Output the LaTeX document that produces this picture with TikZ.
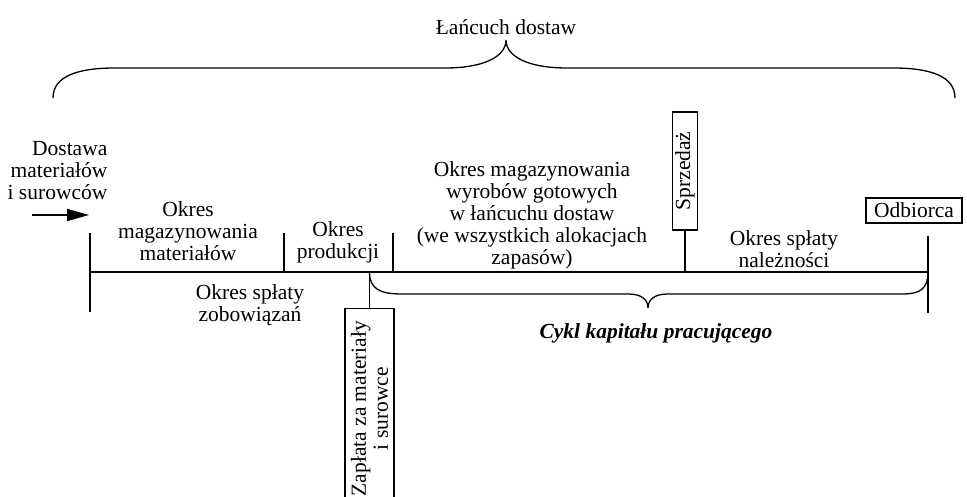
\documentclass[tikz,border=0pt]{standalone}
\usepackage{fontspec}
\setmainfont{Liberation Serif}
\usetikzlibrary{arrows.meta}
\begin{document}
\begin{tikzpicture}[x=1pt,y=-1pt,line width=1.3pt,
  txt/.style={align=center,inner sep=0pt,font=\fontsize{21.5}{22}\selectfont},
  boxed/.style={draw,line width=1.3pt,inner sep=1pt,font=\fontsize{21.5}{22}\selectfont,align=center},
  bar/.style={line width=1.5pt}]
\useasboundingbox (0,0) rectangle (967,497);
\clip (0,0) rectangle (967,497);

% title and top brace
\node[txt] (title) at (506,27) {Łańcuch dostaw};
\coordinate (tbL) at (53,98);
\coordinate (tbR) at (955,98);
\coordinate (tbTip) at (506,40);
\draw (tbL) .. controls (53,76) and (78,68) .. (115,68) -- (445,68)
  .. controls (485,68) and (506,56) .. (tbTip)
  .. controls (506,56) and (527,68) .. (567,68) -- (893,68)
  .. controls (930,68) and (955,76) .. (tbR);

% timeline
\coordinate (mL) at (90,272);
\coordinate (mR) at (928,272);
\draw[bar] (mL) -- (mR);
\coordinate (tLtop) at (90,233);
\coordinate (tLbot) at (90,312);
\draw[bar] (tLtop) -- (tLbot);
\coordinate (tRtop) at (928,236);
\coordinate (tRbot) at (928,313);
\draw[bar] (tRtop) -- (tRbot);
\coordinate (t1top) at (284,233);
\coordinate (t1bot) at (284,272);
\draw[bar] (t1top) -- (t1bot);
\coordinate (t2top) at (393,233);
\coordinate (t2bot) at (393,272);
\draw[bar] (t2top) -- (t2bot);

% arrow
\coordinate (arS) at (32,215);
\coordinate (arE) at (89,215);
\draw[line width=1.6pt,-{Triangle[length=22pt,width=12pt]}] (arS) -- (arE);

% texts
\node[txt,align=right,anchor=east] (dostawa) at (108,171) {Dostawa\\materiałów\\i surowców};
\node[txt] (magmat) at (188,231) {Okres\\magazynowania\\materiałów};
\node[txt] (prod) at (338,242) {Okres\\produkcji};
\node[txt] (zob) at (250,305) {Okres spłaty\\zobowiązań};
\node[txt] (magwyr) at (532,215) {Okres magazynowania\\wyrobów gotowych\\w łańcuchu dostaw\\(we wszystkich alokacjach\\zapasów)};
\node[txt] (nal) at (784,249) {Okres spłaty\\należności};

% Sprzedaz box
\node[boxed,rotate=90,minimum width=118pt,minimum height=25pt] (sprz) at (685,171) {Sprzedaż};
\draw (sprz.west) -- (sprz.west |- mL);

% Odbiorca box
\node[boxed,minimum width=96pt,minimum height=25pt,inner sep=0pt] (odb) at (914,210.5) {Odbiorca};

% payment box
\node[boxed,rotate=90,anchor=east,minimum width=200pt,minimum height=49pt] (pay) at (369.5,308) {Zapłata za materiały\\i surowce};
\coordinate (payTop) at (369.5,272);
\draw (payTop) -- (pay.east);

% lower brace
\coordinate (lbTip) at (648,308);
\draw (payTop) .. controls (369.5,289) and (380,294) .. (402,294) -- (628,294)
  .. controls (642,294) and (648,300) .. (lbTip)
  .. controls (648,300) and (654,294) .. (668,294) -- (902,294)
  .. controls (920,294) and (928,289) .. (mR);

\node[txt,font=\fontsize{21.5}{22}\selectfont\bfseries\itshape] (cykl) at (656,333) {Cykl kapitału pracującego};
\end{tikzpicture}
\end{document}
